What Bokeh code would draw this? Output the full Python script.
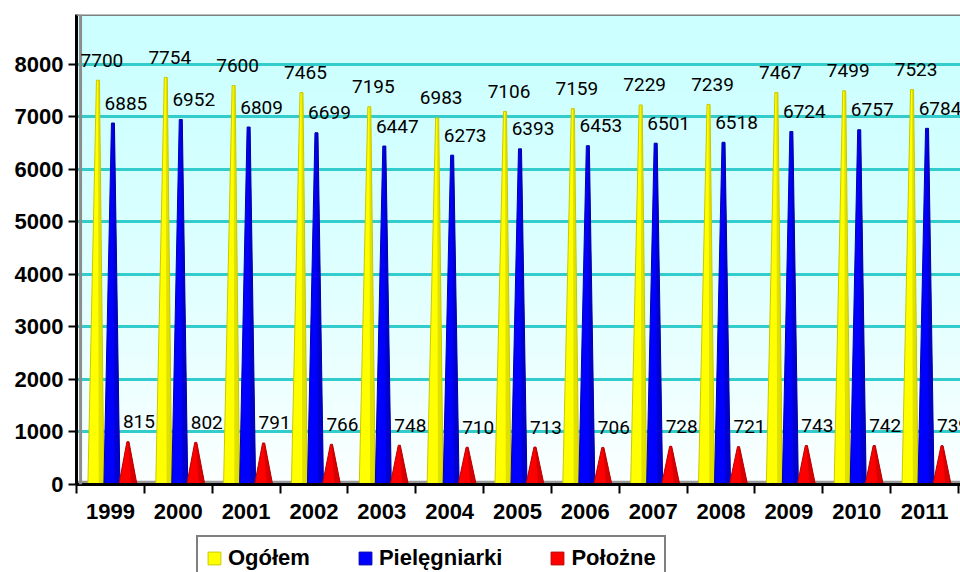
import numpy as np
from bokeh.plotting import figure
from bokeh.layouts import column
from bokeh.core.properties import value
from bokeh.models import (FixedTicker, Range1d, Span, Legend, LegendItem, LabelSet,
                          ColumnDataSource, BoxAnnotation)
from bokeh.embed import file_html
from bokeh.resources import INLINE

# ---------------- data ----------------
years = ["1999", "2000", "2001", "2002", "2003", "2004", "2005",
         "2006", "2007", "2008", "2009", "2010", "2011"]
ogolem = [7700, 7754, 7600, 7465, 7195, 6983, 7106, 7159, 7229, 7239, 7467, 7499, 7523]
pielegniarki = [6885, 6952, 6809, 6699, 6447, 6273, 6393, 6453, 6501, 6518, 6724, 6757, 6784]
polozne = [815, 802, 791, 766, 748, 710, 713, 706, 728, 721, 743, 742, 739]
series_names = ["Ogółem", "Pielęgniarki", "Położne"]
y_ticks = [0, 1000, 2000, 3000, 4000, 5000, 6000, 7000, 8000]

# ---------------- style ----------------
colors = ["#FFFF00", "#0000FF", "#FF0000"]
shades = ["#C9C900", "#0000A8", "#B80000"]
base_off = [-0.214, 0.022, 0.258]
apex_off = [-0.184, 0.037, 0.258]
base_half = [0.118, 0.118, 0.133]
top_half = [0.022, 0.022, 0.015]
label_dx = [4, 13, 11]
label_font = "Roboto"

n = len(years)
x_end = 13.03
y_end = 8952

p = figure(width=960, height=530, x_range=Range1d(0, x_end), y_range=Range1d(0, y_end),
           output_backend="svg", toolbar_location=None,
           min_border_left=76, min_border_right=0, min_border_top=14, min_border_bottom=46)
p.background_fill_color = "white"
p.border_fill_color = "white"
p.outline_line_color = None

# background gradient (light cyan -> white)
N = 200
t = np.linspace(1.0, 0.0, N)  # row 0 = bottom
img = np.zeros((N, 1), dtype=np.uint32)
view = img.view(dtype=np.uint8).reshape((N, 1, 4))
view[:, 0, 0] = (204 + 48 * t ** 1.5).astype(np.uint8)
view[:, 0, 1] = 255
view[:, 0, 2] = 255
view[:, 0, 3] = 255
p.image_rgba(image=[img], x=0, y=0, dw=x_end, dh=y_end, level="image")

# grid
p.xgrid.visible = False
p.ygrid.ticker = FixedTicker(ticks=y_ticks)
p.ygrid.grid_line_color = "#33CCCC"
p.ygrid.grid_line_width = 3

# floor + walls
p.add_layout(BoxAnnotation(bottom=0, top=70, fill_color="#999999", fill_alpha=1,
                           line_color=None, level="underlay"))
p.add_layout(Span(location=y_end, dimension="width", line_color="#808080", line_width=3))
p.add_layout(Span(location=0.06, dimension="height", line_color="#8C8C8C", line_width=3))

# cones
for s, vals in enumerate([ogolem, pielegniarki, polozne]):
    xs, ys, sxs, sys_ = [], [], [], []
    for i, v in enumerate(vals):
        c = i + 0.5
        bc = c + base_off[s]
        ac = c + apex_off[s]
        bl, br = bc - base_half[s], bc + base_half[s]
        tl, tr = ac - top_half[s], ac + top_half[s]
        xs.append([bl, tl, tr, br])
        ys.append([0, v, v, 0])
        sxs.append([bc + 0.35 * base_half[s], ac, tr, br])
        sys_.append([0, v, v, 0])
    p.patches(xs, ys, fill_color=colors[s], line_color=shades[s], line_width=1)
    p.patches(sxs, sys_, fill_color=shades[s], fill_alpha=0.55, line_color=None)

    src = ColumnDataSource(dict(x=[i + 0.5 + apex_off[s] for i in range(n)], y=vals,
                                t=[str(v) for v in vals]))
    p.add_layout(LabelSet(x="x", y="y", text="t", source=src, x_offset=label_dx[s], y_offset=20,
                          text_align="center", text_baseline="middle",
                          text_font=value(label_font), text_font_size=value("19px"),
                          text_color=value("black")))

# y axis
p.yaxis.ticker = FixedTicker(ticks=y_ticks)
p.yaxis.axis_line_width = 3
p.yaxis.axis_line_color = "black"
p.yaxis.major_tick_out = 8
p.yaxis.major_tick_in = 0
p.yaxis.major_tick_line_width = 2
p.yaxis.minor_tick_line_color = None
p.yaxis.major_label_standoff = 5
p.yaxis.major_label_text_font = "Liberation Sans"
p.yaxis.major_label_text_font_style = "bold"
p.yaxis.major_label_text_font_size = "22px"
p.yaxis.major_label_text_color = "black"

# x axis
centers = [i + 0.5 for i in range(n)]
bounds = [float(i) for i in range(n + 1)]
p.xaxis.ticker = FixedTicker(ticks=centers, minor_ticks=bounds)
p.xaxis.major_label_overrides = {c: y for c, y in zip(centers, years)}
p.xaxis.axis_line_width = 3
p.xaxis.axis_line_color = "black"
p.xaxis.major_tick_line_color = None
p.xaxis.major_tick_out = 0
p.xaxis.major_tick_in = 0
p.xaxis.minor_tick_out = 9
p.xaxis.minor_tick_in = 0
p.xaxis.minor_tick_line_width = 2
p.xaxis.minor_tick_line_color = "black"
p.xaxis.major_label_standoff = 10
p.xaxis.major_label_text_font = "Liberation Sans"
p.xaxis.major_label_text_font_style = "bold"
p.xaxis.major_label_text_font_size = "22px"
p.xaxis.major_label_text_color = "black"

# legend strip (separate small figure below the chart)
lg = figure(width=960, height=42, x_range=Range1d(0, 1), y_range=Range1d(0, 1),
            output_backend="svg", toolbar_location=None,
            x_axis_type=None, y_axis_type=None, min_border=0)
lg.outline_line_color = None
lg.background_fill_color = "white"
lg.border_fill_color = "white"
lg.grid.visible = False
items = []
for s, nm in enumerate(series_names):
    r = lg.rect(x=[-5], y=[-5], width=1, height=1, fill_color=colors[s], line_color=shades[s])
    items.append(LegendItem(label=nm, renderers=[r]))
legend = Legend(items=items, orientation="horizontal", location=(120, -9),
                padding=8, spacing=47, margin=0,
                glyph_width=16, glyph_height=16, label_standoff=6,
                label_text_font="Liberation Sans", label_text_font_style="bold",
                label_text_font_size="22px", label_text_color="black",
                border_line_color="black", border_line_width=2,
                background_fill_color="white", background_fill_alpha=1)
lg.add_layout(legend, "center")

layout = column(p, lg, spacing=0)
open("out.html", "w").write(file_html(layout, INLINE))
